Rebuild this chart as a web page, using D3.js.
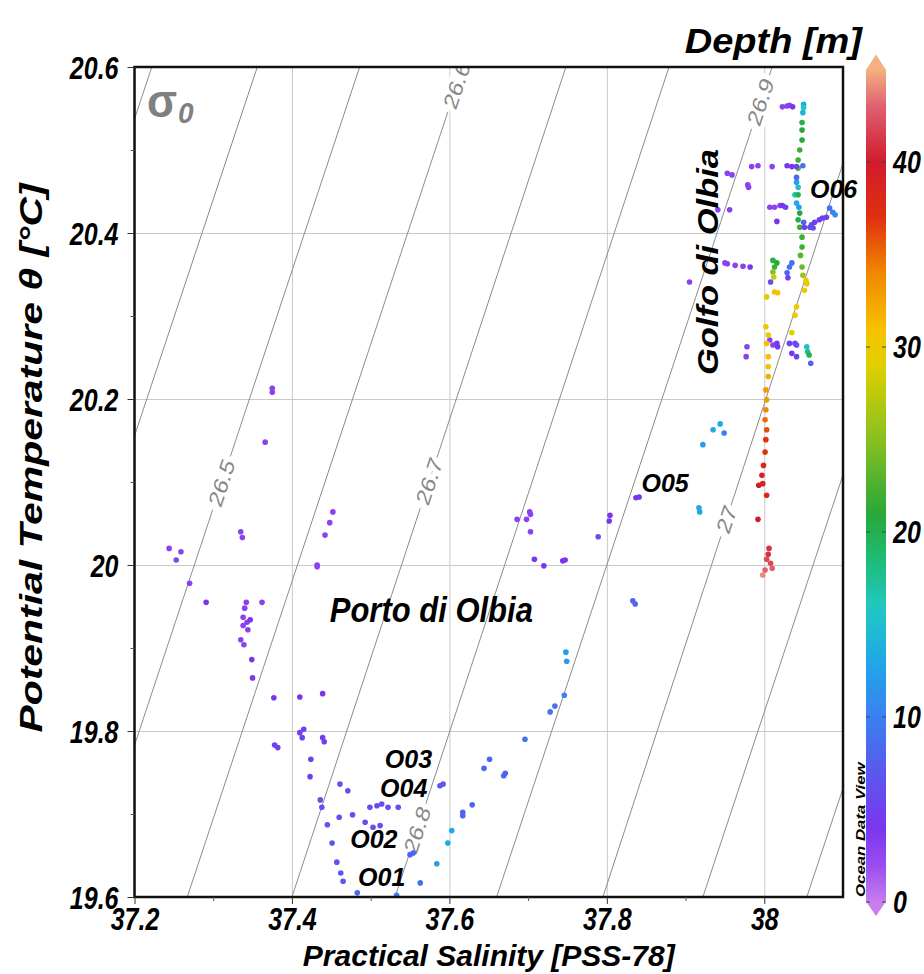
<!DOCTYPE html>
<html>
<head>
<meta charset="utf-8">
<script src="https://cdn.jsdelivr.net/npm/d3@7"></script>
<style>
  body { margin: 0; background: #fff; }
  text { font-family: "Liberation Sans", Arial, sans-serif; }
</style>
</head>
<body>
<svg id="chart" width="924" height="974"></svg>
<script>
/* global d3 */
const salTicks = [37.2, 37.4, 37.6, 37.8, 38]
const salMinor = [37.3, 37.5, 37.7, 37.9]
const tempTicks = [19.6, 19.8, 20, 20.2, 20.4, 20.6]
const tempMinor = [19.7, 19.9, 20.1, 20.3, 20.5]
const depthTicks = [0, 10, 20, 30, 40]

// isopycnals (sigma-0): salinity where each one meets 19.6 and 20.6 degC
const sigmaLevels = [26.3, 26.4, 26.5, 26.6, 26.7, 26.8, 26.9, 27.0, 27.1, 27.2]
const sigmaSalLow = [36.871, 37.005, 37.136, 37.267, 37.400, 37.531, 37.660, 37.795, 37.922, 38.054]
const sigmaSalHigh = [37.222, 37.356, 37.486, 37.617, 37.748, 37.879, 38.010, 38.140, 38.272, 38.405]
const sigmaLabelText = ['26.5', '26.6', '26.7', '26.8', '26.9', '27']
const sigmaLabelLevel = [26.5, 26.6, 26.7, 26.8, 26.9, 27.0]
const sigmaLabelTemp = [20.099, 20.578, 20.101, 19.681, 20.558, 20.055]

// CTD samples: [salinity, potential temperature, depth]
const portoPoints = [
  [37.244, 20.020, 3], [37.259, 20.016, 3], [37.253, 20.006, 3], [37.270, 19.978, 3], [37.291, 19.955, 4],
  [37.375, 20.208, 3], [37.375, 20.213, 3], [37.366, 20.148, 3], [37.335, 20.040, 3], [37.337, 20.033, 3],
  [37.342, 19.955, 3], [37.362, 19.955, 3], [37.340, 19.948, 3], [37.338, 19.937, 3], [37.343, 19.931, 3],
  [37.338, 19.927, 3], [37.344, 19.922, 3], [37.335, 19.910, 3], [37.339, 19.904, 3], [37.347, 19.934, 4],
  [37.349, 19.886, 4], [37.350, 19.864, 4],
  [37.452, 20.064, 3], [37.448, 20.051, 3], [37.442, 20.036, 3], [37.432, 20.000, 3], [37.432, 19.998, 3],
  [37.377, 19.840, 4], [37.378, 19.783, 5], [37.382, 19.780, 5],
  [37.410, 19.841, 4], [37.439, 19.845, 4], [37.415, 19.802, 5], [37.413, 19.792, 5], [37.410, 19.798, 5],
  [37.439, 19.792, 5], [37.441, 19.787, 5], [37.424, 19.766, 5], [37.423, 19.745, 5], [37.461, 19.736, 6],
  [37.471, 19.728, 6], [37.436, 19.717, 6], [37.438, 19.708, 6],
  [37.499, 19.708, 6], [37.508, 19.710, 6], [37.514, 19.712, 6], [37.522, 19.708, 6], [37.535, 19.708, 6],
  [37.445, 19.687, 6], [37.460, 19.696, 6], [37.477, 19.699, 6], [37.493, 19.690, 6], [37.503, 19.684, 6],
  [37.512, 19.686, 6],
  [37.451, 19.665, 7], [37.457, 19.642, 7], [37.462, 19.629, 7], [37.465, 19.619, 7], [37.483, 19.605, 8],
  [37.533, 19.602, 9], [37.563, 19.617, 9],
  [37.584, 19.640, 12], [37.598, 19.665, 13], [37.603, 19.680, 13], [37.550, 19.651, 8], [37.554, 19.653, 8],
  [37.588, 19.734, 7], [37.592, 19.736, 7], [37.617, 19.702, 8], [37.617, 19.698, 8], [37.629, 19.711, 8],
  [37.696, 19.790, 9], [37.651, 19.766, 8], [37.644, 19.755, 8], [37.671, 19.749, 8], [37.669, 19.746, 8],
  [37.728, 19.823, 9], [37.734, 19.830, 9], [37.746, 19.843, 10], [37.748, 19.895, 12], [37.749, 19.884, 12],
  [37.833, 19.957, 8], [37.836, 19.953, 8],
  [37.702, 20.064, 3], [37.703, 20.061, 3], [37.686, 20.055, 3], [37.698, 20.055, 3], [37.703, 20.040, 3],
  [37.708, 20.007, 4], [37.720, 19.999, 4], [37.744, 20.005, 4], [37.747, 20.006, 4],
  [37.789, 20.034, 6], [37.804, 20.060, 4], [37.803, 20.053, 4], [37.837, 20.081, 4], [37.841, 20.082, 4],
  [37.917, 20.069, 13], [37.918, 20.064, 13], [37.922, 20.145, 12], [37.935, 20.163, 13], [37.944, 20.170, 13],
  [37.949, 20.159, 10]
]

const golfoPoints = [
  [38.023, 20.552, 3], [38.029, 20.553, 3], [38.032, 20.554, 3], [38.036, 20.552, 4],
  [38.050, 20.555, 13], [38.050, 20.551, 16], [38.049, 20.545, 14], [38.048, 20.533, 20], [38.048, 20.524, 21],
  [38.048, 20.512, 21], [38.045, 20.500, 22], [38.043, 20.488, 22], [38.043, 20.478, 23],
  [37.953, 20.472, 3], [37.959, 20.470, 3], [37.984, 20.480, 3], [37.992, 20.481, 3], [38.010, 20.480, 3],
  [38.029, 20.481, 4], [38.035, 20.480, 4], [38.041, 20.480, 5], [38.049, 20.481, 9],
  [37.979, 20.458, 3], [37.980, 20.455, 3],
  [38.041, 20.467, 8], [38.041, 20.461, 12], [38.043, 20.455, 15], [38.039, 20.446, 17], [38.043, 20.446, 20],
  [38.041, 20.436, 13], [38.044, 20.431, 12],
  [38.007, 20.431, 3], [38.013, 20.431, 3], [38.020, 20.433, 3], [38.023, 20.433, 4], [38.027, 20.431, 5],
  [38.016, 20.414, 4], [37.941, 20.428, 3], [37.956, 20.428, 3],
  [38.045, 20.424, 21], [38.043, 20.416, 20], [38.045, 20.407, 22], [38.048, 20.395, 22],
  [38.050, 20.413, 8], [38.051, 20.407, 5],
  [38.058, 20.407, 6], [38.062, 20.406, 6], [38.060, 20.410, 6], [38.064, 20.413, 5], [38.070, 20.416, 5],
  [38.074, 20.418, 5], [38.079, 20.419, 5], [38.083, 20.430, 9], [38.087, 20.425, 10], [38.090, 20.422, 11],
  [38.048, 20.383, 22], [38.046, 20.373, 23], [38.048, 20.359, 24], [38.049, 20.349, 26], [38.053, 20.343, 29],
  [38.054, 20.339, 30], [38.051, 20.331, 30],
  [37.950, 20.364, 3], [37.953, 20.363, 3], [37.963, 20.361, 3], [37.973, 20.360, 3], [37.982, 20.359, 4],
  [37.905, 20.341, 3],
  [38.011, 20.367, 20], [38.016, 20.364, 21], [38.013, 20.359, 22], [38.011, 20.353, 25], [38.012, 20.347, 28],
  [38.008, 20.341, 6], [38.032, 20.359, 9], [38.035, 20.364, 9], [38.029, 20.352, 8], [38.030, 20.346, 5],
  [38.003, 20.323, 30], [38.013, 20.329, 31], [38.017, 20.328, 31], [38.041, 20.311, 30], [38.039, 20.301, 30],
  [38.035, 20.280, 29],
  [38.007, 20.271, 3], [38.011, 20.265, 3], [38.016, 20.267, 4], [38.017, 20.263, 4], [38.032, 20.267, 5],
  [38.039, 20.267, 5], [38.041, 20.265, 6], [38.054, 20.263, 15], [38.055, 20.257, 18], [38.057, 20.253, 20],
  [38.059, 20.243, 8], [37.978, 20.263, 3], [37.977, 20.251, 3], [38.035, 20.255, 4], [38.041, 20.251, 5],
  [38.002, 20.287, 30], [38.005, 20.277, 30], [38.003, 20.267, 31], [38.005, 20.251, 31], [38.005, 20.239, 31],
  [38.005, 20.227, 32], [38.002, 20.211, 33], [38.003, 20.199, 33], [38.002, 20.187, 34], [38.001, 20.175, 35],
  [38.003, 20.163, 36], [38.002, 20.151, 37], [38.001, 20.136, 37], [37.999, 20.120, 38], [37.997, 20.108, 39],
  [37.993, 20.096, 40], [37.998, 20.098, 39], [38.003, 20.084, 38], [37.992, 20.055, 40], [38.006, 20.020, 41],
  [38.005, 20.013, 41], [38.003, 20.007, 42], [38.008, 20.002, 42], [38.010, 19.996, 43], [38.001, 19.994, 43],
  [37.998, 19.988, 44]
]

// ODV rainbow palette for depth
const depthStops = [0, 2, 4, 7, 10, 13, 16, 19, 21, 25, 29, 31, 34, 37, 40, 43, 45]
const depthColors = ['#c87ef0', '#9a4cf0', '#7a36ee', '#5a58ee', '#3a80f0', '#20a8e8', '#20c8c0', '#20b868',
  '#28a838', '#88c020', '#e0d000', '#f8c000', '#f08800', '#e03010', '#d01c2c', '#e06070', '#f4b080']

const svg = d3.select('#chart')
const plot = { left: 134.5, right: 843, top: 67, bottom: 897 }

const x = d3.scaleLinear().domain([37.2, 38.1]).range([plot.left, plot.right])
const y = d3.scaleLinear().domain([19.6, 20.6]).range([plot.bottom, plot.top])
const color = d3.scaleLinear().domain(depthStops).range(depthColors).clamp(true)

// text helper: ODV output is a bit stretched vertically
function stretchText (parent, str, px, py, o) {
  const g = parent.append('g')
    .attr('transform', `translate(${px},${py}) scale(1,${o.k || 1}) rotate(${o.rot || 0})`)
  return g.append('text')
    .attr('text-anchor', o.anchor || 'start')
    .attr('font-size', o.size)
    .attr('font-weight', o.weight || 'bold')
    .attr('font-style', o.style || 'italic')
    .attr('fill', o.fill || '#000')
    .text(str)
}

svg.append('defs').append('clipPath').attr('id', 'plotClip')
  .append('rect')
  .attr('x', plot.left).attr('y', plot.top)
  .attr('width', plot.right - plot.left).attr('height', plot.bottom - plot.top)

/** grid */
svg.append('g')
  .attr('transform', `translate(0,${plot.bottom})`)
  .call(d3.axisBottom(x).tickValues(salTicks).tickSize(-(plot.bottom - plot.top)).tickFormat(''))
  .call(g => g.select('.domain').remove())
  .selectAll('line').attr('stroke', '#c9c9c9')
svg.append('g')
  .attr('transform', `translate(${plot.left},0)`)
  .call(d3.axisLeft(y).tickValues(tempTicks).tickSize(-(plot.right - plot.left)).tickFormat(''))
  .call(g => g.select('.domain').remove())
  .selectAll('line').attr('stroke', '#c9c9c9')

/** isopycnals */
const iso = svg.append('g').attr('clip-path', 'url(#plotClip)')
iso.selectAll('line.iso')
  .data(sigmaLevels)
  .enter()
  .append('line')
  .attr('class', 'iso')
  .attr('x1', (d, i) => x(sigmaSalLow[i]))
  .attr('y1', y(19.6))
  .attr('x2', (d, i) => x(sigmaSalHigh[i]))
  .attr('y2', y(20.6))
  .attr('stroke', '#8c8c8c')
  .attr('stroke-width', 1)

const labK = 1.25
sigmaLabelText.forEach((t, i) => {
  const j = sigmaLevels.indexOf(sigmaLabelLevel[i])
  const f = (sigmaLabelTemp[i] - 19.6) / 1.0
  const s = sigmaSalLow[j] + f * (sigmaSalHigh[j] - sigmaSalLow[j])
  const dx = x(sigmaSalHigh[j]) - x(sigmaSalLow[j])
  const dy = y(20.6) - y(19.6)
  const ang = Math.atan2(dy / labK, dx) * 180 / Math.PI
  stretchText(iso, t, x(s), y(sigmaLabelTemp[i]), {
    size: 20, k: labK, rot: ang, anchor: 'middle', weight: 'normal', style: 'normal', fill: '#888'
  })
    .attr('dy', '0.35em')
    .attr('stroke', '#fff').attr('stroke-width', 9).attr('paint-order', 'stroke')
})

/** sigma-0 mark */
stretchText(svg, 'σ', 147, 117, { size: 44, k: 1.05, fill: '#808080', style: 'normal' })
stretchText(svg, '0', 178, 123, { size: 28, k: 1.05, fill: '#808080' })

/** points */
const pts = svg.append('g').attr('clip-path', 'url(#plotClip)')
pts.selectAll('circle')
  .data(portoPoints.concat(golfoPoints))
  .enter()
  .append('circle')
  .attr('cx', d => x(d[0]))
  .attr('cy', d => y(d[1]))
  .attr('r', 2.8)
  .attr('fill', d => color(d[2]))

/** frame */
svg.append('rect')
  .attr('x', plot.left).attr('y', plot.top)
  .attr('width', plot.right - plot.left).attr('height', plot.bottom - plot.top)
  .attr('fill', 'none').attr('stroke', '#111').attr('stroke-width', 2.5)

/** axes */
const xAxis = svg.append('g')
  .attr('transform', `translate(0,${plot.bottom})`)
  .call(d3.axisBottom(x).tickValues(salTicks).tickSize(7).tickFormat(d3.format('')))
xAxis.select('.domain').remove()
xAxis.selectAll('line').attr('stroke', '#333')
xAxis.selectAll('text')
  .attr('font-size', 25).attr('font-weight', 'bold').attr('font-style', 'italic')
  .attr('font-family', '"Liberation Sans", Arial, sans-serif').attr('fill', '#000')
  .attr('y', 9).attr('dy', '0.71em')
  .attr('transform', 'scale(1,1.25)')

svg.append('g')
  .attr('transform', `translate(0,${plot.bottom})`)
  .call(d3.axisBottom(x).tickValues(salMinor).tickSize(4).tickFormat(''))
  .call(g => g.select('.domain').remove())
  .selectAll('line').attr('stroke', '#555')

const yAxis = svg.append('g')
  .attr('transform', `translate(${plot.left},0)`)
  .call(d3.axisLeft(y).tickValues(tempTicks).tickSize(7).tickFormat(d3.format('')))
yAxis.select('.domain').remove()
yAxis.selectAll('line').attr('stroke', '#333')
yAxis.selectAll('text')
  .attr('font-size', 25).attr('font-weight', 'bold').attr('font-style', 'italic')
  .attr('font-family', '"Liberation Sans", Arial, sans-serif').attr('fill', '#000')
  .attr('x', -16).attr('dy', '0.36em')
  .attr('transform', 'scale(1,1.25)')

svg.append('g')
  .attr('transform', `translate(${plot.left},0)`)
  .call(d3.axisLeft(y).tickValues(tempMinor).tickSize(4).tickFormat(''))
  .call(g => g.select('.domain').remove())
  .selectAll('line').attr('stroke', '#555')

/** axis titles */
stretchText(svg, 'Practical Salinity [PSS-78]', (plot.left + plot.right) / 2, 966, { size: 30, k: 1.0, anchor: 'middle' })
stretchText(svg, 'Potential Temperature θ [°C]', 42, 458, { size: 31, k: 1.32, rot: -90, anchor: 'middle' })

/** annotations */
stretchText(svg, 'Porto di Olbia', x(37.448), y(19.931), { size: 31, k: 1.15 })
stretchText(svg, 'Golfo di Olbia', x(37.941), y(20.365), { size: 30, k: 1.15, rot: -90, anchor: 'middle' })
const stations = [['O01', 37.484, 19.613], ['O02', 37.474, 19.659], ['O03', 37.518, 19.755],
  ['O04', 37.512, 19.721], ['O05', 37.844, 20.088], ['O06', 38.058, 20.442]]
stations.forEach(s => stretchText(svg, s[0], x(s[1]), y(s[2]), { size: 25, k: 1.0 }))

/** colour bar */
const cb = { x: 866, w: 20 }
const cy = d3.scaleLinear().domain([0, 45]).range([902, 69.5])
const grad = svg.select('defs').append('linearGradient')
  .attr('id', 'depthGrad').attr('x1', 0).attr('y1', 1).attr('x2', 0).attr('y2', 0)
grad.selectAll('stop')
  .data(depthStops)
  .enter()
  .append('stop')
  .attr('offset', d => d / 45)
  .attr('stop-color', d => color(d))
svg.append('rect')
  .attr('x', cb.x).attr('y', cy(45))
  .attr('width', cb.w).attr('height', cy(0) - cy(45))
  .attr('fill', 'url(#depthGrad)')
svg.append('path')
  .attr('d', `M${cb.x},${cy(45) + 0.5}L${cb.x + cb.w / 2},${cy(45) - 15}L${cb.x + cb.w},${cy(45) + 0.5}Z`)
  .attr('fill', color(45))
svg.append('path')
  .attr('d', `M${cb.x},${cy(0) - 0.5}L${cb.x + cb.w / 2},${cy(0) + 14}L${cb.x + cb.w},${cy(0) - 0.5}Z`)
  .attr('fill', color(0))

const cbTicks = svg.append('g').selectAll('g').data(depthTicks).enter().append('g')
cbTicks.append('line')
  .attr('x1', cb.x).attr('x2', cb.x + 4)
  .attr('y1', d => cy(d)).attr('y2', d => cy(d))
  .attr('stroke', '#444').attr('stroke-width', 1)
cbTicks.append('line')
  .attr('x1', cb.x + cb.w - 4).attr('x2', cb.x + cb.w)
  .attr('y1', d => cy(d)).attr('y2', d => cy(d))
  .attr('stroke', '#444').attr('stroke-width', 1)
depthTicks.forEach(d => {
  stretchText(svg, String(d), 893, cy(d) + 11, { size: 25, k: 1.25 })
})

stretchText(svg, 'Depth [m]', 862, 53, { size: 38, k: 0.9, anchor: 'end' })
stretchText(svg, 'Ocean Data View', 865, 897, { size: 12, k: 1.4, rot: -90 })
</script>
</body>
</html>
